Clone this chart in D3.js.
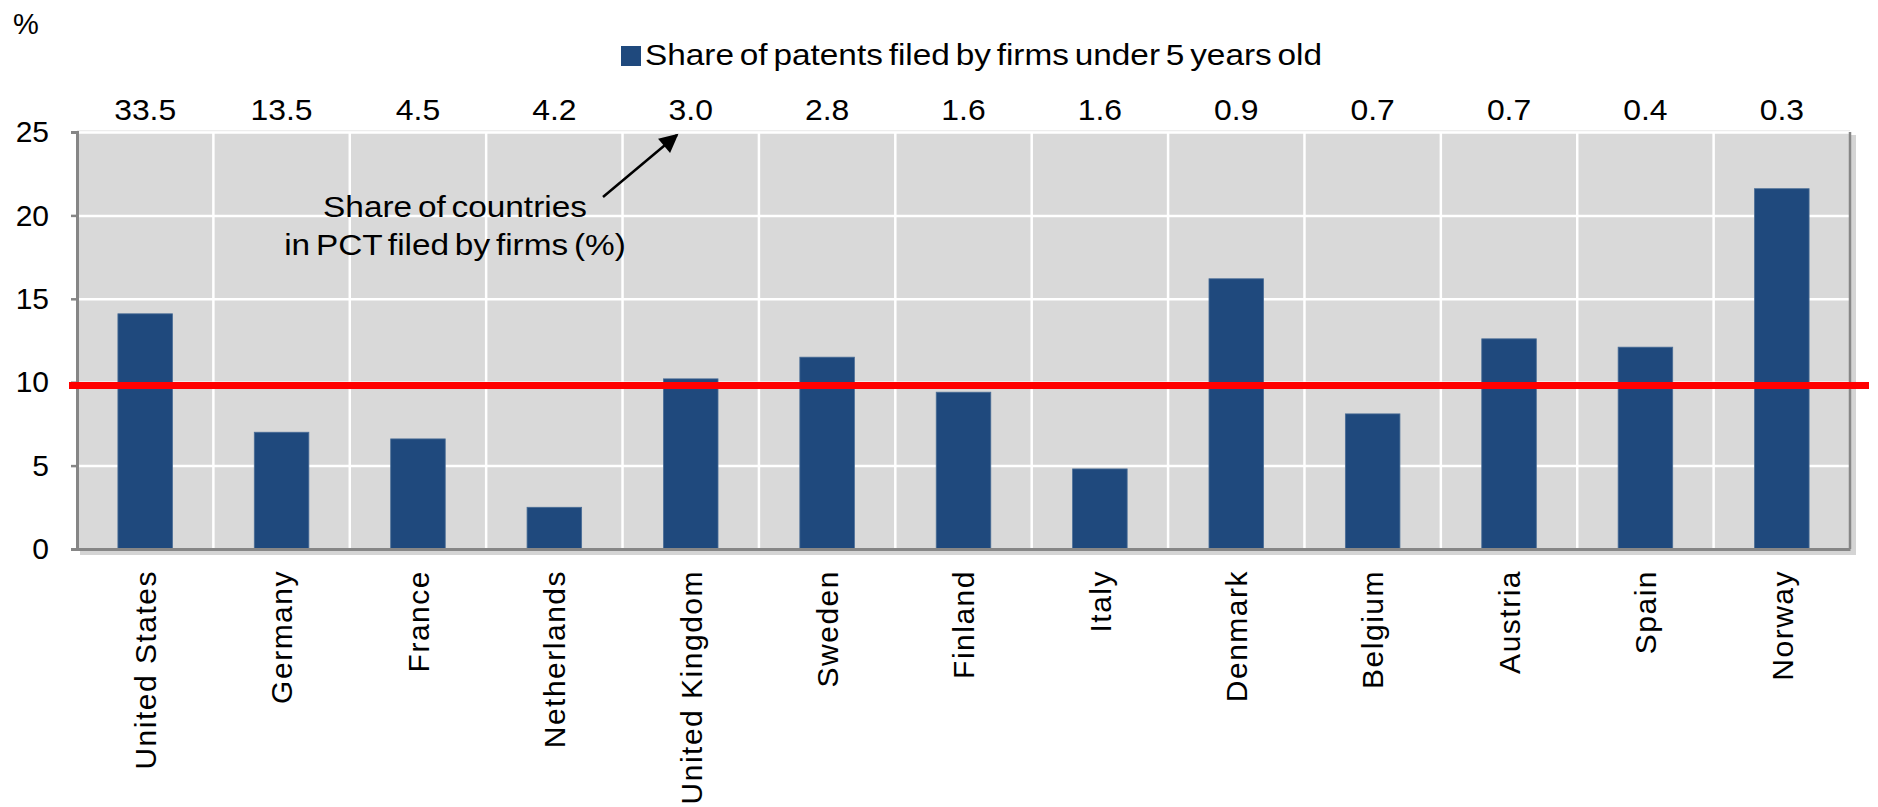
<!DOCTYPE html>
<html>
<head>
<meta charset="utf-8">
<script src="https://cdn.jsdelivr.net/npm/d3@7"></script>
<style>
  body { margin: 0; background: #fff; }
  text { font-family: 'Liberation Sans', Arial, sans-serif; fill: #000; }
</style>
</head>
<body>
<div id="chart"></div>
<script>
// data
var countries = ['United States', 'Germany', 'France', 'Netherlands', 'United Kingdom', 'Sweden',
  'Finland', 'Italy', 'Denmark', 'Belgium', 'Austria', 'Spain', 'Norway']
var youngShare = [14.1, 7.0, 6.6, 2.5, 10.2, 11.5, 9.4, 4.8, 16.2, 8.1, 12.6, 12.1, 21.6]
var pctShare = ['33.5', '13.5', '4.5', '4.2', '3.0', '2.8', '1.6', '1.6', '0.9', '0.7', '0.7', '0.4', '0.3']
var averageLine = 9.8
var yTicks = [0, 5, 10, 15, 20, 25]
var legendLabel = 'Share of patents filed by firms under 5 years old'

var margin = { top: 132, left: 77, right: 28, bottom: 258 }
var width = 1878 - margin.left - margin.right
var height = 807 - margin.top - margin.bottom

// the original chart is a bit stretched sideways
var stretch = 'scale(1.15,1)'

var svg = d3.select('#chart')
  .append('svg')
  .attr('width', 1878)
  .attr('height', 807)

var g = svg.append('g')
  .attr('transform', 'translate(' + margin.left + ',' + margin.top + ')')

var xBand = d3.scaleBand().domain(countries).range([0, width])
var xBar = d3.scaleBand().domain(countries).range([0, width]).paddingInner(0.6).paddingOuter(0.3)
var yScale = d3.scaleLinear().domain([0, 25]).range([height, 0])

// shadow + plot background
g.append('rect')
  .attr('x', 3).attr('y', 3)
  .attr('width', width + 3).attr('height', height + 3)
  .attr('fill', '#d4d4d4')
g.append('rect')
  .attr('x', 0).attr('y', -2)
  .attr('width', width).attr('height', height + 2)
  .attr('fill', '#ececec')
g.append('rect')
  .attr('x', 0).attr('y', 0)
  .attr('width', width).attr('height', height)
  .attr('fill', '#d9d9d9')

// horizontal grid
g.append('g')
  .attr('class', 'grid')
  .call(d3.axisLeft(yScale).tickValues(yTicks).tickSize(-width).tickFormat(''))
  .call(s => s.select('.domain').remove())
  .call(s => s.selectAll('line').attr('stroke', '#fff').attr('stroke-width', 2.5))

// vertical grid at category boundaries
g.selectAll('.vgrid')
  .data(countries.slice(1))
  .enter()
  .append('line')
  .attr('class', 'vgrid')
  .attr('x1', d => xBand(d))
  .attr('x2', d => xBand(d))
  .attr('y1', 0)
  .attr('y2', height)
  .attr('stroke', '#fff')
  .attr('stroke-width', 2.5)

// bars
g.selectAll('.bar')
  .data(countries)
  .enter()
  .append('rect')
  .attr('class', 'bar')
  .attr('x', d => xBar(d))
  .attr('width', xBar.bandwidth())
  .attr('y', (d, i) => yScale(youngShare[i]))
  .attr('height', (d, i) => height - yScale(youngShare[i]))
  .attr('fill', '#1f497d')
  .attr('stroke', '#4a6d96')
  .attr('stroke-width', 0.8)

// right frame
g.append('line')
  .attr('x1', width).attr('x2', width)
  .attr('y1', 0).attr('y2', height)
  .attr('stroke', '#868686').attr('stroke-width', 2.5)

// y axis
var yAxis = d3.axisLeft(yScale).tickValues(yTicks).tickSize(6).tickPadding(22)
g.append('g')
  .attr('class', 'axis y-axis')
  .call(yAxis)
  .call(s => s.select('.domain').attr('stroke', '#868686').attr('stroke-width', 3))
  .call(s => s.selectAll('line').attr('stroke', '#868686').attr('stroke-width', 2.5))
  .call(s => s.selectAll('text').attr('font-size', 30).attr('font-family', "'Liberation Sans', Arial"))

// x axis
g.append('g')
  .attr('class', 'axis x-axis')
  .attr('transform', 'translate(0,' + height + ')')
  .call(d3.axisBottom(xBand).tickSize(0).tickPadding(0))
  .call(s => s.select('.domain').attr('stroke', '#868686').attr('stroke-width', 3))
  .call(s => s.selectAll('text')
    .attr('font-size', 30)
    .attr('font-family', "'Liberation Sans', Arial")
    .attr('letter-spacing', 1.5)
    .attr('text-anchor', 'end')
    .attr('transform', 'rotate(-90)')
    .attr('x', -21)
    .attr('y', 0)
    .attr('dy', '0.36em'))

// red reference line
g.append('line')
  .attr('x1', -8).attr('x2', width + 19)
  .attr('y1', yScale(averageLine)).attr('y2', yScale(averageLine))
  .attr('stroke', '#ff0000')
  .attr('stroke-width', 7)

// values on top
g.selectAll('.top-value')
  .data(countries)
  .enter()
  .append('text')
  .attr('class', 'top-value')
  .attr('transform', d => 'translate(' + (xBand(d) + xBand.bandwidth() / 2) + ',-12) scale(1.1,1)')
  .attr('text-anchor', 'middle')
  .attr('font-size', 29)
  .text((d, i) => pctShare[i])

// annotation
var note = g.append('text')
  .attr('transform', 'translate(378,0) ' + stretch)
  .attr('text-anchor', 'middle')
  .attr('font-size', 29)
  .attr('word-spacing', -3)
note.append('tspan').attr('x', 0).attr('y', 85).text('Share of countries')
note.append('tspan').attr('x', 0).attr('y', 123).text('in PCT filed by firms (%)')

svg.append('defs').append('marker')
  .attr('id', 'arrow')
  .attr('viewBox', '0 0 10 10')
  .attr('refX', 9).attr('refY', 5)
  .attr('markerWidth', 8.5).attr('markerHeight', 7.5)
  .attr('orient', 'auto')
  .attr('markerUnits', 'strokeWidth')
  .append('path')
  .attr('d', 'M0,0 L10,5 L0,10 z')
  .attr('fill', '#000')

g.append('line')
  .attr('x1', 526).attr('y1', 65)
  .attr('x2', 600).attr('y2', 3)
  .attr('stroke', '#000')
  .attr('stroke-width', 2.5)
  .attr('marker-end', 'url(#arrow)')

// "%" unit label
svg.append('text')
  .attr('x', 26).attr('y', 34)
  .attr('text-anchor', 'middle')
  .attr('font-size', 29)
  .text('%')

// legend
var legend = svg.append('g').attr('transform', 'translate(621,46)')
legend.append('rect')
  .attr('width', 20).attr('height', 20)
  .attr('fill', '#1f497d')
legend.append('text')
  .attr('transform', 'translate(24,19) ' + stretch)
  .attr('font-size', 29)
  .attr('word-spacing', -3)
  .text(legendLabel)
</script>
</body>
</html>
